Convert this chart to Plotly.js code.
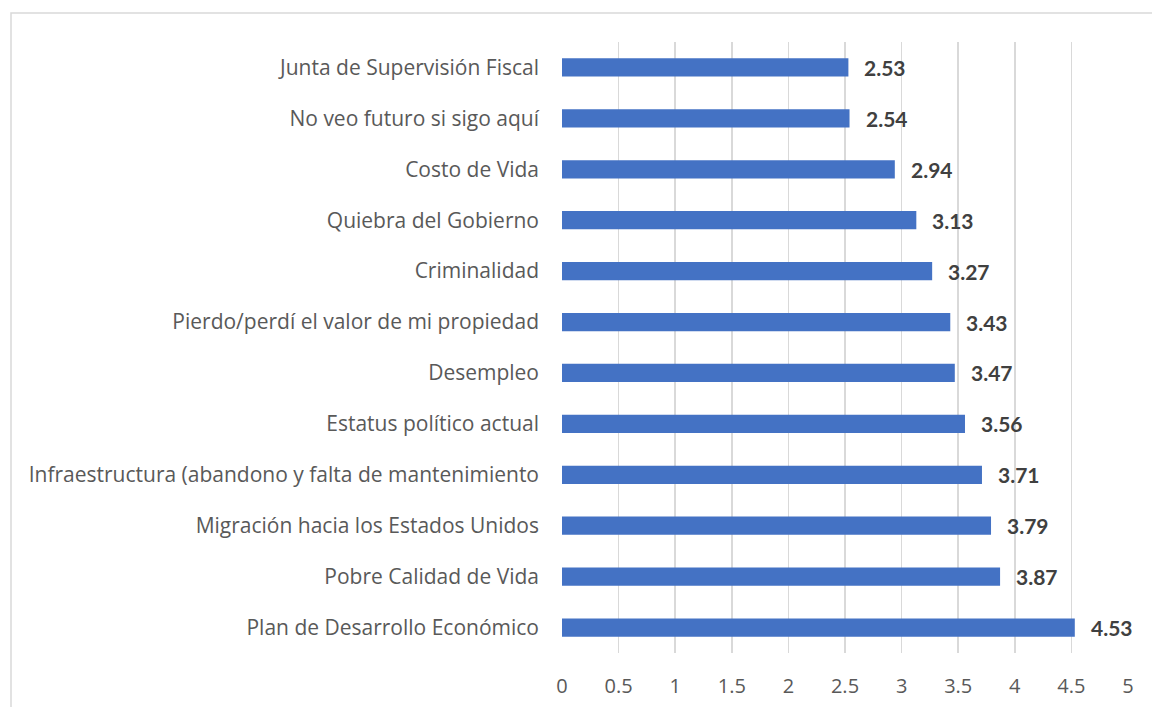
<!DOCTYPE html>
<html>
<head>
<meta charset="utf-8">
<script src="https://cdn.plot.ly/plotly-3.0.1.min.js"></script>
<style>
html,body{margin:0;padding:0;background:#fff;}
#chart{width:1152px;height:707px;}
</style>
</head>
<body>
<div id="chart"></div>
<script>
const categories = [
  "Plan de Desarrollo Económico",
  "Pobre Calidad de Vida",
  "Migración hacia los Estados Unidos",
  "Infraestructura (abandono y falta de mantenimiento",
  "Estatus político actual",
  "Desempleo",
  "Pierdo/perdí el valor de mi propiedad",
  "Criminalidad",
  "Quiebra del Gobierno",
  "Costo de Vida",
  "No veo futuro si sigo aquí",
  "Junta de Supervisión Fiscal"
];
const values = [4.53, 3.87, 3.79, 3.71, 3.56, 3.47, 3.43, 3.27, 3.13, 2.94, 2.54, 2.53];
const tickVals = [0, 0.5, 1, 1.5, 2, 2.5, 3, 3.5, 4, 4.5, 5];
const tickText = ["0", "0.5", "1", "1.5", "2", "2.5", "3", "3.5", "4", "4.5", "5"];

const FONT = "'Open Sans', Lato, sans-serif";
const BFONT = "Lato, 'Open Sans', sans-serif";

const trace = {
  type: "bar",
  orientation: "h",
  x: values,
  y: categories,
  width: 0.36,
  marker: {color: "#4472c4"},
  hoverinfo: "none"
};

const annotations = values.map((v, i) => ({
  x: v, y: categories[i], xref: "x", yref: "y",
  text: "<b>" + v.toFixed(2) + "</b>",
  showarrow: false, xanchor: "left", xshift: 14,
  font: {family: BFONT, size: 21, color: "#404040"}
}));

const layout = {
  width: 1152, height: 707,
  margin: {l: 562, r: 24, t: 42, b: 54},
  paper_bgcolor: "#fff", plot_bgcolor: "#fff",
  showlegend: false,
  xaxis: {
    range: [0, 5],
    tickvals: tickVals, ticktext: tickText,
    showgrid: true, gridcolor: "#d9d9d9", gridwidth: 1.5,
    zeroline: false, showline: false, ticks: "",
    ticklabelstandoff: 19,
    tickfont: {family: FONT, size: 20, color: "#595959"},
    fixedrange: true
  },
  yaxis: {
    type: "category",
    categoryorder: "array", categoryarray: categories,
    range: [-0.5, 11.5],
    showgrid: false, zeroline: false, showline: false, ticks: "",
    ticklabelstandoff: 22,
    tickfont: {family: FONT, size: 21, color: "#595959"},
    fixedrange: true
  },
  annotations: annotations,
  shapes: [{
    type: "rect", xref: "paper", yref: "paper",
    x0: (11 - 562) / 566, x1: 1.3,
    y0: -0.3, y1: (653 - 13) / 611,
    line: {color: "#d9d9d9", width: 1.5}, fillcolor: "rgba(0,0,0,0)",
    layer: "below"
  }]
};

Plotly.newPlot("chart", [trace], layout, {displayModeBar: false, staticPlot: true});
</script>
</body>
</html>
